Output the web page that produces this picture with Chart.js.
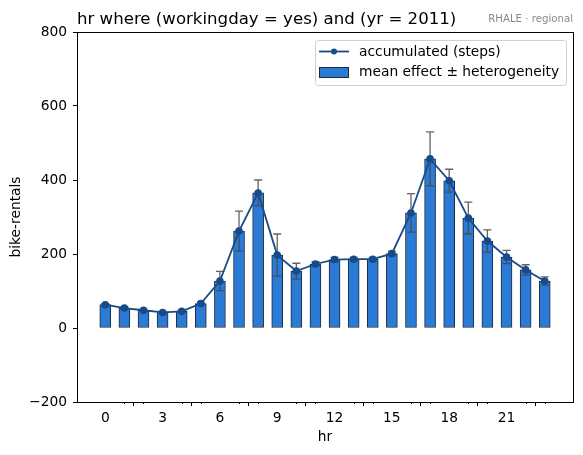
<!DOCTYPE html>
<html>
<head>
<meta charset="utf-8">
<script src="https://cdn.jsdelivr.net/npm/chart.js@4.4.1/dist/chart.umd.min.js"></script>
<style>
  html, body { margin: 0; padding: 0; background: #fff; }
  #wrap { width: 583px; height: 455px; position: relative; }
</style>
</head>
<body>
<div id="wrap"><canvas id="rhaleChart"></canvas></div>
<script>
const hours = [0, 1, 2, 3, 4, 5, 6, 7, 8, 9, 10, 11, 12, 13, 14, 15, 16, 17, 18, 19, 20, 21, 22, 23];
const meanEffect = [63, 54, 48, 42, 45, 66, 127, 262, 365, 197, 154, 173, 185, 186, 186, 201, 311, 457, 398, 297, 235, 192, 157, 127];
const heterogeneity = [3, 3, 3, 3, 3, 4, 26, 54, 35, 57, 21, 6, 6, 5, 5, 6, 52, 73, 31, 43, 30, 18, 14, 11];
const accumulated = [63, 54, 48, 42, 45, 66, 127, 262, 365, 197, 154, 173, 185, 186, 186, 201, 311, 457, 398, 297, 235, 192, 157, 127];
const xTicks = [0, 3, 6, 9, 12, 15, 18, 21];
const yTicks = [-200, 0, 200, 400, 600, 800];

const titleText = "hr where (workingday = yes) and (yr = 2011)";
const tagText = "RHALE · regional";
const barColor = "#2a7ad6";
const lineColor = "#174a8b";
const font = "DejaVu Sans";

// error bars, frame, minor ticks, title and legend
const extras = {
    id: "extras",
    afterDatasetDraw(chart, args) {
        if (args.index !== 1) return;
        const ctx = chart.ctx;
        const x = chart.scales.x, y = chart.scales.y;
        ctx.save();
        ctx.strokeStyle = "rgba(70,70,70,0.85)";
        ctx.lineWidth = 1.3;
        hours.forEach((h, i) => {
            const px = x.getPixelForValue(h);
            const top = y.getPixelForValue(meanEffect[i] + heterogeneity[i]);
            const bot = y.getPixelForValue(meanEffect[i] - heterogeneity[i]);
            ctx.beginPath();
            ctx.moveTo(px, top); ctx.lineTo(px, bot);
            ctx.moveTo(px - 4, top); ctx.lineTo(px + 4, top);
            ctx.moveTo(px - 4, bot); ctx.lineTo(px + 4, bot);
            ctx.stroke();
        });
        ctx.restore();
    },
    afterDraw(chart) {
        const ctx = chart.ctx;
        const a = chart.chartArea;
        const x = chart.scales.x;
        ctx.save();
        ctx.strokeStyle = "#000";
        ctx.lineWidth = 1;
        ctx.strokeRect(Math.round(a.left) + 0.5, Math.round(a.top) + 0.5, Math.round(a.right - a.left), Math.round(a.bottom - a.top));
        // minor ticks, one per hour
        ctx.beginPath();
        hours.forEach(h => {
            if (xTicks.includes(h)) return;
            const px = Math.round(x.getPixelForValue(h)) + 0.5;
            ctx.moveTo(px, a.bottom); ctx.lineTo(px, a.bottom + 2);
        });
        ctx.stroke();

        // title
        ctx.fillStyle = "#000";
        ctx.font = "16.6px '" + font + "'";
        ctx.textBaseline = "alphabetic";
        ctx.textAlign = "left";
        ctx.fillText(titleText, a.left, 24);
        ctx.fillStyle = "#888";
        ctx.font = "10.2px '" + font + "'";
        ctx.textAlign = "right";
        ctx.fillText(tagText, a.right, 22);

        // legend
        const lx = 315, ly = 40, lw = 251, lh = 45;
        ctx.fillStyle = "rgba(255,255,255,0.8)";
        ctx.strokeStyle = "#d0d0d0";
        ctx.lineWidth = 1;
        ctx.beginPath();
        ctx.roundRect(lx + 0.5, ly + 0.5, lw, lh, 3);
        ctx.fill(); ctx.stroke();
        ctx.strokeStyle = lineColor;
        ctx.lineWidth = 1.8;
        ctx.beginPath();
        ctx.moveTo(319, 51.5); ctx.lineTo(349, 51.5);
        ctx.stroke();
        ctx.fillStyle = lineColor;
        ctx.beginPath();
        ctx.arc(334, 51.5, 3, 0, Math.PI * 2);
        ctx.fill();
        ctx.fillStyle = barColor;
        ctx.strokeStyle = "#1e2a3a";
        ctx.lineWidth = 1;
        ctx.fillRect(319, 67, 30, 10);
        ctx.strokeRect(319.5, 67.5, 29, 10);
        ctx.fillStyle = "#000";
        ctx.font = "13.8px '" + font + "'";
        ctx.textAlign = "left";
        ctx.textBaseline = "middle";
        ctx.fillText("accumulated (steps)", 359, 52);
        ctx.fillText("mean effect ± heterogeneity", 359, 72.5);
        ctx.restore();
    }
};

Chart.defaults.font.family = font;
Chart.defaults.color = "#000";

const ctx = document.getElementById("rhaleChart").getContext("2d");
const rhaleChart = new Chart(ctx, {
    type: "bar",
    data: {
        datasets: [
            {
                type: "line",
                label: "accumulated (steps)",
                data: hours.map((h, i) => ({ x: h, y: accumulated[i] })),
                borderColor: lineColor,
                backgroundColor: lineColor,
                borderWidth: 1.8,
                pointRadius: 3.8,
                pointBorderWidth: 0,
                tension: 0,
                order: 0
            },
            {
                type: "bar",
                label: "mean effect ± heterogeneity",
                data: hours.map((h, i) => ({ x: h, y: meanEffect[i] })),
                backgroundColor: barColor,
                borderColor: "#1e2a3a",
                borderWidth: 1,
                borderSkipped: false,
                barThickness: 11,
                order: 1
            }
        ]
    },
    options: {
        responsive: true,
        maintainAspectRatio: false,
        animation: false,
        layout: { padding: { left: 0, right: 10, top: 32, bottom: 0 } },
        plugins: {
            legend: { display: false },
            title: { display: false },
            tooltip: { enabled: false }
        },
        scales: {
            x: {
                type: "linear",
                min: -1.48,
                max: 24.48,
                offset: false,
                grid: { drawOnChartArea: false, drawTicks: true, tickLength: 4, color: "#000" },
                border: { display: false },
                afterBuildTicks: (axis) => { axis.ticks = xTicks.map(v => ({ value: v })); },
                afterFit: (axis) => { axis.height = 53; },
                ticks: { font: { size: 13.8 }, padding: 4, maxRotation: 0, autoSkip: false },
                title: { display: true, text: "hr", font: { size: 13.8 }, padding: { top: 0, bottom: 9 } }
            },
            y: {
                min: -200,
                max: 800,
                grid: { drawOnChartArea: false, drawTicks: true, tickLength: 4, color: "#000" },
                border: { display: false },
                afterBuildTicks: (axis) => { axis.ticks = yTicks.map(v => ({ value: v })); },
                afterFit: (axis) => { axis.width = 77; },
                ticks: {
                    font: { size: 13.8 },
                    padding: 6,
                    callback: (v) => String(v).replace("-", "\u2212")
                },
                title: { display: true, text: "bike-rentals", font: { size: 13.8 }, padding: { top: 8, bottom: 0 } }
            }
        }
    },
    plugins: [extras]
});
</script>
</body>
</html>
